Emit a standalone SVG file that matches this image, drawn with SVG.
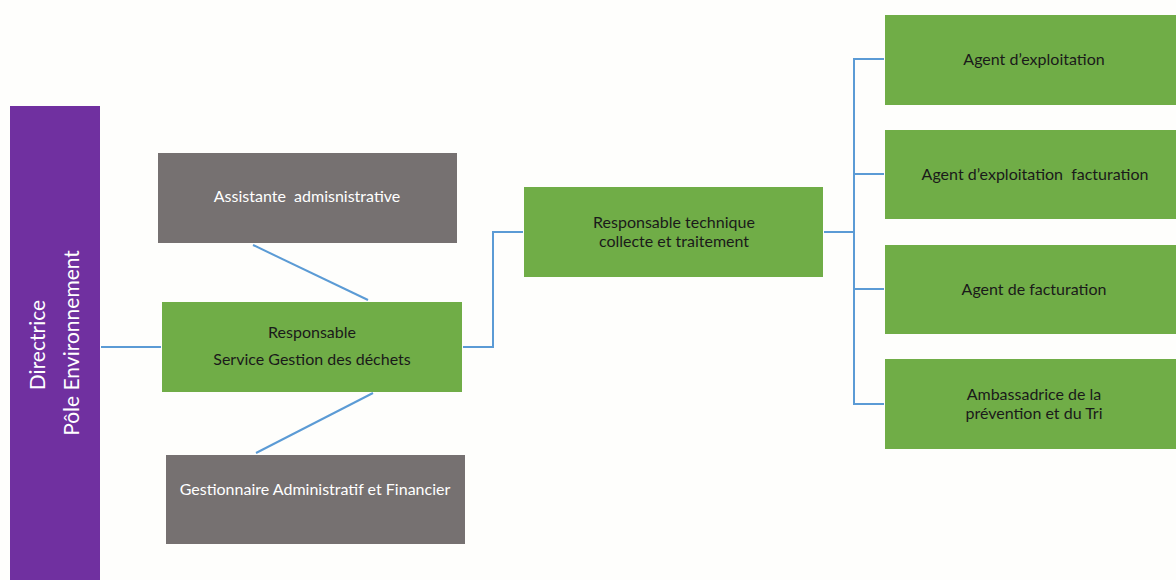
<svg xmlns="http://www.w3.org/2000/svg" width="1176" height="580" viewBox="0 0 1176 580">
<style>
.g{fill:#70AD47}
.gr{fill:#767171}
.p{fill:#7030A0}
.t{font-family:Lato,"Liberation Sans",sans-serif;font-size:16px;text-anchor:middle;fill:#1a1a1a;white-space:pre}
.w{fill:#ffffff}
.pt{font-family:Lato,"Liberation Sans",sans-serif;font-size:21px;text-anchor:middle;fill:#ffffff}
.c{fill:none;stroke:#5B9BD5;stroke-width:2}
</style>
<rect width="1176" height="580" fill="#FEFEFC"/>
<g id="connectors">
<line class="c" x1="101" y1="347" x2="161" y2="347"/>
<line class="c" x1="253" y1="245" x2="368" y2="300"/>
<line class="c" x1="373" y1="393" x2="256" y2="453"/>
<polyline class="c" points="463,347 493,347 493,232 523,232"/>
<line class="c" x1="824" y1="232" x2="854" y2="232"/>
<polyline class="c" points="884,59 854,59 854,404 884,404"/>
<line class="c" x1="854" y1="174" x2="884" y2="174"/>
<line class="c" x1="854" y1="289" x2="884" y2="289"/>
</g>
<g id="directrice">
<rect class="p" x="10" y="106" width="90" height="474"/>
<text class="pt" transform="translate(45,345) rotate(-90)">Directrice</text>
<text class="pt" transform="translate(79,343) rotate(-90)">Pôle Environnement</text>
</g>
<g id="assistante">
<rect class="gr" x="158" y="153" width="299" height="90"/>
<text class="t w" x="307" y="202" xml:space="preserve">Assistante  admisnistrative</text>
</g>
<g id="responsable">
<rect class="g" x="162" y="302" width="300" height="90"/>
<text class="t" x="312" y="338">Responsable</text>
<text class="t" x="312" y="365">Service Gestion des déchets</text>
</g>
<g id="gestionnaire">
<rect class="gr" x="166" y="455" width="299" height="89"/>
<text class="t w" x="315" y="495">Gestionnaire Administratif et Financier</text>
</g>
<g id="resp-technique">
<rect class="g" x="524" y="187" width="299" height="90"/>
<text class="t" x="674" y="228">Responsable technique</text>
<text class="t" x="674" y="247">collecte et traitement</text>
</g>
<g id="agent-exploitation">
<rect class="g" x="885" y="15" width="291" height="90"/>
<text class="t" x="1034" y="65">Agent d’exploitation</text>
</g>
<g id="agent-exploitation-facturation">
<rect class="g" x="885" y="130" width="291" height="89"/>
<text class="t" x="1035" y="180" xml:space="preserve">Agent d’exploitation  facturation</text>
</g>
<g id="agent-facturation">
<rect class="g" x="885" y="245" width="291" height="89"/>
<text class="t" x="1034" y="295">Agent de facturation</text>
</g>
<g id="ambassadrice">
<rect class="g" x="885" y="359" width="291" height="90"/>
<text class="t" x="1034" y="400">Ambassadrice de la</text>
<text class="t" x="1034" y="419">prévention et du Tri</text>
</g>
</svg>
